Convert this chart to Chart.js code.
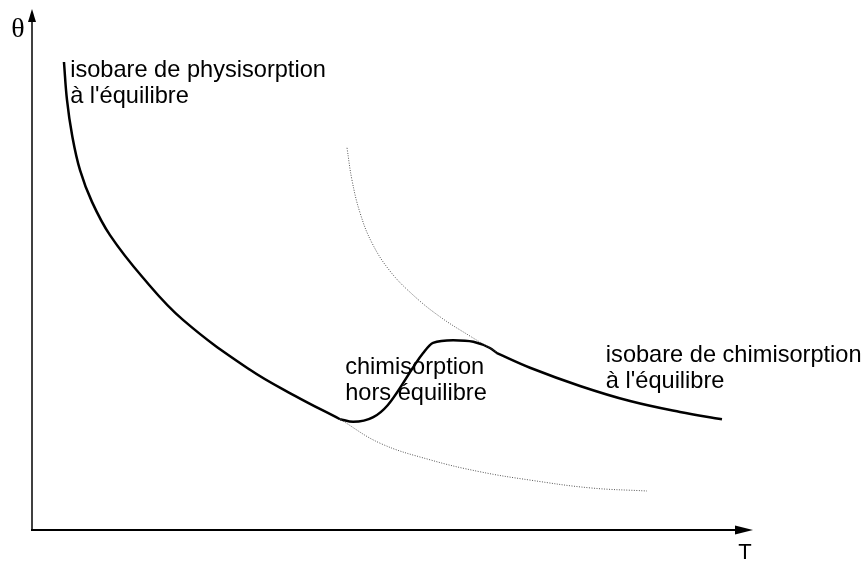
<!DOCTYPE html>
<html>
<head>
<meta charset="utf-8">
<script src="https://cdn.jsdelivr.net/npm/chart.js@4.4.1/dist/chart.umd.min.js"></script>
<style>
  html, body { margin: 0; padding: 0; background: #fff; }
  #wrap { width: 866px; height: 562px; }
</style>
</head>
<body>
<div id="wrap"><canvas id="isobares"></canvas></div>
<script>
// temperature T (arbitrary units, 0-100) and coverage theta (0-1)

// physisorption isobar, equilibrium (solid part)
const physT     = [4.44, 4.86, 5.56, 6.67, 8.33, 10.83, 15.42, 20.97, 30.28, 36.53, 42.78]
const physTheta = [0.900, 0.827, 0.760, 0.692, 0.631, 0.567, 0.485, 0.404, 0.308, 0.258, 0.213]

// physisorption isobar continued beyond the branch point (dotted)
const physExtT     = [42.9, 48.33, 55.28, 62.22, 69.17, 77.5, 85.42]
const physExtTheta = [0.212, 0.167, 0.135, 0.112, 0.096, 0.081, 0.075]

// chemisorption isobar at low temperature, not reached (dotted)
const chemExtT     = [43.75, 44.44, 45.56, 47.22, 49.72, 52.92, 56.67, 60.83, 64.58]
const chemExtTheta = [0.735, 0.673, 0.610, 0.552, 0.498, 0.452, 0.410, 0.373, 0.342]

// chemisorption isobar, equilibrium (solid part)
const chemT     = [64.58, 69.17, 76.11, 83.06, 90.0, 95.83]
const chemTheta = [0.340, 0.312, 0.277, 0.248, 0.227, 0.213]

// non-equilibrium chemisorption path joining both isobars
const horsT     = [42.8, 44.6, 47.4, 49.4, 54.3, 55.7, 58.5, 61.3, 63.6, 64.6]
const horsTheta = [0.213, 0.208, 0.217, 0.240, 0.340, 0.360, 0.365, 0.362, 0.350, 0.340]

const axisTitles = ['T', 'θ']

const toPoints = (xs, ys) => xs.map((x, i) => ({ x: x, y: ys[i] }))

const solid = { borderColor: '#000', borderWidth: 2.5, pointRadius: 0, tension: 0.4, fill: false }
const dotted = { borderColor: '#555', borderWidth: 1, borderDash: [1, 1.5], pointRadius: 0, tension: 0.4, fill: false }

// arrows for both axes plus the curve captions
const decorations = {
  id: 'decorations',
  afterDraw(chart) {
    const c = chart.ctx
    const xs = chart.scales.x
    const ys = chart.scales.y
    const x0 = xs.getPixelForValue(0)
    const y0 = ys.getPixelForValue(0)
    const xEnd = xs.getPixelForValue(100)
    const yEnd = ys.getPixelForValue(1)

    c.save()
    c.strokeStyle = '#000'
    c.fillStyle = '#000'

    // theta axis
    c.lineWidth = 1.5
    c.beginPath()
    c.moveTo(x0, y0)
    c.lineTo(x0, yEnd + 10)
    c.stroke()
    c.beginPath()
    c.moveTo(x0, yEnd - 1)
    c.lineTo(x0 - 4, yEnd + 12)
    c.lineTo(x0 + 4, yEnd + 12)
    c.closePath()
    c.fill()

    // T axis
    c.lineWidth = 2
    c.beginPath()
    c.moveTo(x0 - 1, y0)
    c.lineTo(xEnd - 14, y0)
    c.stroke()
    c.beginPath()
    c.moveTo(xEnd + 1, y0)
    c.lineTo(xEnd - 17, y0 - 4.5)
    c.lineTo(xEnd - 17, y0 + 4.5)
    c.closePath()
    c.fill()

    c.textBaseline = 'middle'
    c.textAlign = 'center'
    c.font = '22px "Liberation Sans", Arial, sans-serif'
    c.fillText(axisTitles[0], xEnd - 7, y0 + 23)
    c.font = '28px "Liberation Serif", "Times New Roman", serif'
    c.fillText(axisTitles[1], x0 - 14, yEnd + 20)

    // captions
    c.textAlign = 'left'
    c.font = '23.6px "Liberation Sans", Arial, sans-serif'
    const caption = (t, th, lines) => {
      const px = xs.getPixelForValue(t)
      const py = ys.getPixelForValue(th)
      lines.forEach((s, i) => c.fillText(s, px, py + i * 26))
    }
    caption(5.3, 0.883, ['isobare de physisorption', "à l'équilibre"])
    caption(43.5, 0.313, ['chimisorption', 'hors équilibre'])
    caption(79.7, 0.335, ['isobare de chimisorption', "à l'équilibre"])
    c.restore()
  }
}

const ctx = document.getElementById('isobares').getContext('2d')

new Chart(ctx, {
  type: 'line',
  data: {
    datasets: [
      Object.assign({ label: 'physisorption', data: toPoints(physT, physTheta) }, solid),
      Object.assign({ label: 'physisorption (suite)', data: toPoints(physExtT, physExtTheta) }, dotted),
      Object.assign({ label: 'chimisorption (suite)', data: toPoints(chemExtT, chemExtTheta) }, dotted),
      Object.assign({ label: 'chimisorption', data: toPoints(chemT, chemTheta) }, solid),
      Object.assign({ label: 'hors équilibre', data: toPoints(horsT, horsTheta) }, solid, { tension: 0, cubicInterpolationMode: 'monotone' })
    ]
  },
  options: {
    responsive: true,
    maintainAspectRatio: false,
    animation: false,
    layout: { padding: { left: 32, right: 114, top: 10, bottom: 32 } },
    scales: {
      x: { type: 'linear', min: 0, max: 100, display: false },
      y: { type: 'linear', min: 0, max: 1, display: false }
    },
    plugins: {
      legend: { display: false },
      tooltip: { enabled: false }
    }
  },
  plugins: [decorations]
})
</script>
</body>
</html>
